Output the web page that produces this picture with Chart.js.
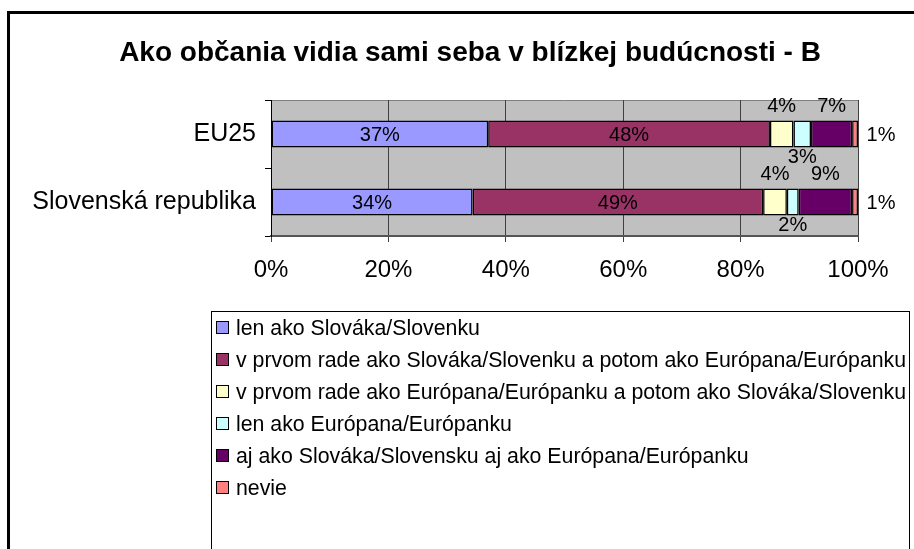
<!DOCTYPE html>
<html>
<head>
<meta charset="utf-8">
<script src="https://cdn.jsdelivr.net/npm/chart.js@4.4.1/dist/chart.umd.min.js"></script>
<style>
  html, body { margin: 0; padding: 0; background: #fff; }
  canvas { display: block; }
</style>
</head>
<body>
<canvas id="graf" width="914" height="549"></canvas>
<script>
const nadpis = 'Ako občania vidia sami seba v blízkej budúcnosti - B';
const kategorie = ['EU25', 'Slovenská republika'];
const odpovede = [
  'len ako Slováka/Slovenku',
  'v prvom rade ako Slováka/Slovenku a potom ako Európana/Európanku',
  'v prvom rade ako Európana/Európanku a potom ako Slováka/Slovenku',
  'len ako Európana/Európanku',
  'aj ako Slováka/Slovensku aj ako Európana/Európanku',
  'nevie'
];
const hodnotyEU25 = [37, 48, 4, 3, 7, 1];
const hodnotySR = [34, 49, 4, 2, 9, 1];
const farby = ['#9999FF', '#993366', '#FFFFCC', '#CCFFFF', '#660066', '#FF8080'];
// kde sa kreslí popisok hodnoty pre každú odpoveď
const umiestnenie = ['vnutri', 'vnutri', 'hore', 'dole', 'hore', 'vpravo'];

const FONT = 'Arial, "Liberation Sans", sans-serif';
const riadky = [hodnotyEU25, hodnotySR];
const sucty = riadky.map(r => r.reduce((a, b) => a + b, 0));

// 100 % skladaný graf: každý riadok sa prepočíta na podiel zo súčtu
const datasets = odpovede.map((label, i) => ({
  label,
  data: riadky.map((r, j) => r[i] / sucty[j] * 100),
  povodne: riadky.map(r => r[i]),
  backgroundColor: farby[i],
  borderColor: '#000',
  borderWidth: 1.5,
  borderSkipped: false,
  categoryPercentage: 1,
  barPercentage: 0.4
}));

const pozadie = {
  id: 'pozadie',
  beforeDraw(chart) {
    const { ctx, chartArea: a } = chart;
    ctx.save();
    ctx.fillStyle = '#fff';
    ctx.fillRect(0, 0, chart.width, chart.height);
    ctx.fillStyle = '#C0C0C0';
    ctx.fillRect(a.left, a.top, a.right - a.left, a.bottom - a.top);
    ctx.strokeStyle = '#808080';
    ctx.lineWidth = 1;
    ctx.beginPath();
    ctx.moveTo(a.left, a.top + 0.5);
    ctx.lineTo(a.right, a.top + 0.5);
    ctx.stroke();
    ctx.restore();
  }
};

const popisky = {
  id: 'popisky',
  afterDatasetsDraw(chart) {
    const { ctx, chartArea: a } = chart;
    ctx.save();
    ctx.font = '20px ' + FONT;
    ctx.fillStyle = '#000';
    ctx.textAlign = 'center';
    ctx.textBaseline = 'middle';
    chart.data.datasets.forEach((ds, i) => {
      chart.getDatasetMeta(i).data.forEach((bar, j) => {
        const text = ds.povodne[j] + '%';
        const cx = (bar.x + bar.base) / 2;
        const h = bar.height;
        let x = cx, y = bar.y + 1;
        if (umiestnenie[i] === 'hore') y = bar.y - h / 2 - 14;
        if (umiestnenie[i] === 'dole') y = bar.y + h / 2 + 10;
        if (umiestnenie[i] === 'vpravo') x = a.right + 23;
        ctx.fillText(text, x, y);
      });
    });
    ctx.restore();
  }
};

const ramec = {
  id: 'ramec',
  afterDraw(chart) {
    const { ctx } = chart;
    ctx.save();
    // orámovanie celého grafu
    ctx.fillStyle = '#000';
    ctx.fillRect(7, 11, 907, 3);
    ctx.fillRect(7, 11, 3, 540);

    ctx.font = 'bold 28px ' + FONT;
    ctx.textAlign = 'center';
    ctx.textBaseline = 'middle';
    ctx.fillText(nadpis, 470, 53);

    // legenda
    ctx.strokeStyle = '#000';
    ctx.lineWidth = 1;
    ctx.strokeRect(211.5, 311.5, 698, 300);
    ctx.font = '21.3px ' + FONT;
    ctx.textAlign = 'left';
    chart.data.datasets.forEach((ds, i) => {
      const cy = 328 + i * 32;
      ctx.fillStyle = ds.backgroundColor;
      ctx.fillRect(216.5, cy - 6.5, 12, 12);
      ctx.strokeRect(216.5, cy - 6.5, 12, 12);
      ctx.fillStyle = '#000';
      ctx.fillText(ds.label, 236, cy + 1);
    });
    ctx.restore();
  }
};

new Chart(document.getElementById('graf'), {
  type: 'bar',
  data: { labels: kategorie, datasets },
  options: {
    indexAxis: 'y',
    responsive: false,
    animation: false,
    devicePixelRatio: 1,
    layout: { padding: { top: 100, right: 56, bottom: 253, left: 0 } },
    plugins: {
      legend: { display: false },
      title: { display: false },
      tooltip: { enabled: false }
    },
    scales: {
      x: {
        stacked: true,
        min: 0,
        max: 100,
        afterFit: axis => { axis.height = 60; },
        ticks: {
          stepSize: 20,
          color: '#000',
          padding: 14,
          font: { size: 24, family: FONT },
          callback: v => v + '%'
        },
        grid: { color: '#404040', lineWidth: 1, drawTicks: true, tickLength: 6 },
        border: { color: '#555', width: 2 }
      },
      y: {
        stacked: true,
        afterFit: axis => { axis.width = 271; },
        ticks: {
          color: '#000',
          padding: 9,
          font: { size: 25, family: FONT }
        },
        grid: { drawOnChartArea: false, drawTicks: true, tickLength: 6, color: '#000', offset: true },
        border: { color: '#000', width: 1 }
      }
    }
  },
  plugins: [pozadie, popisky, ramec]
});
</script>
</body>
</html>
